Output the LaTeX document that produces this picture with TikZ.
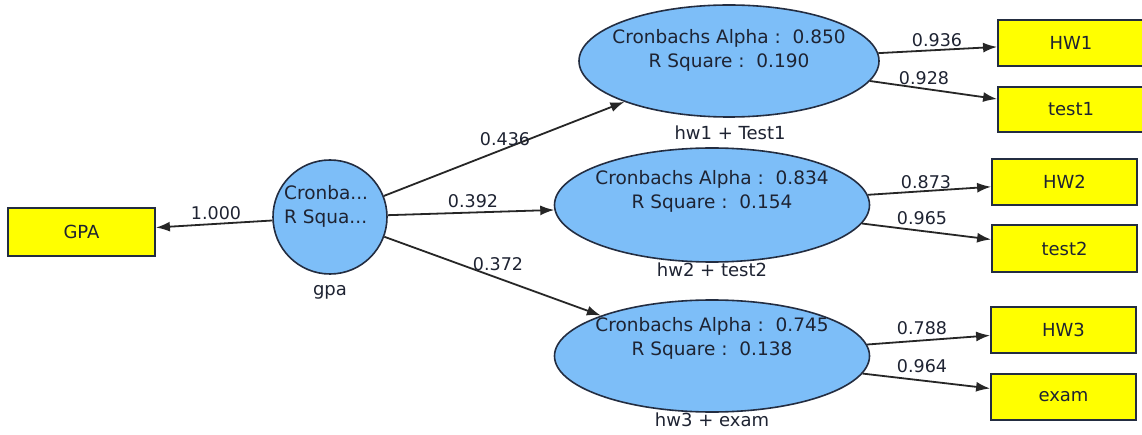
\documentclass[tikz,border=0pt]{standalone}
\usepackage{fontspec}
\setmainfont{DejaVu Sans}
\usetikzlibrary{shapes.geometric,arrows.meta}
\definecolor{latfill}{RGB}{125,190,248}
\definecolor{latline}{RGB}{35,45,65}
\definecolor{indfill}{RGB}{255,255,0}
\definecolor{txt}{RGB}{30,35,50}
\tikzset{
  lat/.style={ellipse, draw=latline, line width=1.6pt, fill=latfill, inner sep=0pt},
  ind/.style={rectangle, draw=latline, line width=1.8pt, fill=indfill, inner sep=0pt,
              font=\fontsize{18}{20}\selectfont, text=txt},
  pathedge/.style={draw=black!85, line width=1.8pt, -{Latex[length=14pt,width=10pt]}},
  coef/.style={font=\fontsize{17.5}{20}\selectfont, text=txt, inner sep=0pt},
  stat/.style={font=\fontsize{18.5}{24}\selectfont, text=txt, align=center, inner sep=0pt},
  latcap/.style={font=\fontsize{18}{20}\selectfont, text=txt, inner sep=0pt}
}
\begin{document}
\begin{tikzpicture}[x=1pt,y=-1pt]
\useasboundingbox (0,0) rectangle (1142,435);
\fill[white] (0,0) rectangle (1142,435);

% latent variables
\node[lat, circle, minimum size=114pt] (gpa) at (330,217) {};
\node[lat, minimum width=300pt, minimum height=112pt] (e1) at (729,61) {};
\node[lat, minimum width=315pt, minimum height=114pt] (e2) at (712,205) {};
\node[lat, minimum width=315pt, minimum height=112pt] (e3) at (712,356) {};

% statistics inside the latents
\node[stat, align=left, anchor=west] (gpat) at (284,206) {Cronba...\\R Squa...};
\node[stat] (e1t) at (729,50) {Cronbachs Alpha :\ \ 0.850\\R Square :\ \ 0.190};
\node[stat] (e2t) at (712,191) {Cronbachs Alpha :\ \ 0.834\\R Square :\ \ 0.154};
\node[stat] (e3t) at (712,338) {Cronbachs Alpha :\ \ 0.745\\R Square :\ \ 0.138};

% latent captions
\node[latcap] (gpac) at (330,292) {gpa};
\node[latcap] (e1c) at (730,133) {hw1 + Test1};
\node[latcap] (e2c) at (712,270) {hw2 + test2};
\node[latcap] (e3c) at (712,420) {hw3 + exam};

% indicators
\node[ind, minimum width=147pt, minimum height=48pt] (GPA) at (81.5,232) {GPA};
\node[ind, minimum width=146pt, minimum height=46pt] (HW1) at (1071,43) {HW1};
\node[ind, minimum width=146pt, minimum height=45pt] (test1) at (1071,109.5) {test1};
\node[ind, minimum width=145pt, minimum height=46pt] (HW2) at (1064.5,182) {HW2};
\node[ind, minimum width=145pt, minimum height=47pt] (test2) at (1064.5,248.5) {test2};
\node[ind, minimum width=145pt, minimum height=46pt] (HW3) at (1063.5,330) {HW3};
\node[ind, minimum width=145pt, minimum height=46pt] (exam) at (1063.5,397) {exam};

% paths
\draw[pathedge] (gpa) -- (GPA);
\draw[pathedge] (gpa) -- (e1);
\draw[pathedge] (gpa) -- (e2);
\draw[pathedge] (gpa) -- (e3);
\draw[pathedge] (e1) -- (HW1);
\draw[pathedge] (e1) -- (test1);
\draw[pathedge] (e2) -- (HW2);
\draw[pathedge] (e2) -- (test2);
\draw[pathedge] (e3) -- (HW3);
\draw[pathedge] (e3) -- (exam);

% path coefficients
\node[coef] (c0) at (216,213) {1.000};
\node[coef] (c1) at (505,139) {0.436};
\node[coef] (c2) at (473,201) {0.392};
\node[coef] (c3) at (498,264) {0.372};
\node[coef] (c4) at (937,40) {0.936};
\node[coef] (c5) at (924,78) {0.928};
\node[coef] (c6) at (926,182) {0.873};
\node[coef] (c7) at (922,218) {0.965};
\node[coef] (c8) at (922,328) {0.788};
\node[coef] (c9) at (922,366) {0.964};
\end{tikzpicture}
\end{document}
